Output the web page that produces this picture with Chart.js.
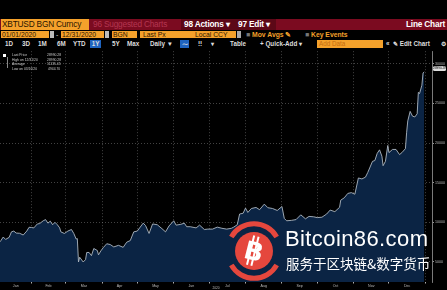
<!DOCTYPE html>
<html>
<head>
<meta charset="utf-8">
<script src="https://cdn.jsdelivr.net/npm/chart.js@4.4.0/dist/chart.umd.min.js"></script>
<style>
  body { margin: 0; background: #000; width: 447px; height: 290px; overflow: hidden; position: relative;
         font-family: "Liberation Sans", Arial, sans-serif; }
  .a { position: absolute; white-space: nowrap; }
  .org { background: #f4a12b; color: #2a1500; }
  #bar2 { position: absolute; left: 0; top: 19px; width: 447px; height: 11px; background: #7b0b20; }
  #bar2 .a { top: 0; height: 11px; line-height: 11px; font-size: 8.3px; letter-spacing: -0.2px; }
  #bar3 .a { top: 31px; height: 7px; line-height: 7px; font-size: 6.8px; }
  #bar4 .a { top: 40px; height: 8px; line-height: 8px; font-size: 6.3px; font-weight: bold; color: #ddd; }
  #legend .a { font-size: 3.4px; color: #ccc; line-height: 4px; }
  #wrap { position: absolute; left: 0; top: 48px; width: 447px; height: 242px; }
</style>
</head>
<body>
<div id="bar2">
  <div class="a org" style="left:1px;width:87px;padding-left:1px;">XBTUSD BGN Curncy</div>
  <div class="a" style="left:93px;color:#b43650;">96 Suggested Charts</div>
  <div class="a" style="left:181px;width:95px;background:#5c0817;"></div>
  <div class="a" style="left:184px;color:#fff;font-weight:bold;">98 Actions ▾</div>
  <div class="a" style="left:238px;color:#fff;font-weight:bold;">97 Edit ▾</div>
  <div class="a" style="right:2px;color:#fff;font-weight:bold;">Line Chart</div>
</div>
<div id="bar3">
  <div class="a org" style="left:1px;width:47px;padding-left:1px;">01/01/2020</div>
  <div class="a" style="left:50px;width:4px;background:#bbb;"></div>
  <div class="a" style="left:56px;color:#ddd;">-</div>
  <div class="a org" style="left:61px;width:42px;padding-left:1px;">12/31/2020</div>
  <div class="a" style="left:105px;width:4px;background:#bbb;"></div>
  <div class="a org" style="left:112px;width:24px;padding-left:1px;">BGN</div>
  <div class="a org" style="left:140px;width:51px;padding-left:3px;">Last Px</div>
  <div class="a org" style="left:194px;width:41px;padding-left:1px;">Local CCY</div>
  <div class="a" style="left:237px;width:4px;background:#aaa;"></div>
  <div class="a" style="left:246px;color:#f4a12b;font-weight:bold;"><span style="color:#777">■</span> Mov Avgs ✎</div>
  <div class="a" style="left:305px;color:#f4a12b;font-weight:bold;"><span style="color:#777">■</span> Key Events</div>
</div>
<div id="bar4">
  <div class="a" style="left:5px;">1D</div>
  <div class="a" style="left:22px;">3D</div>
  <div class="a" style="left:38px;">1M</div>
  <div class="a" style="left:57px;">6M</div>
  <div class="a" style="left:73px;">YTD</div>
  <div class="a" style="left:90px;width:11px;background:#1f64c0;text-align:center;">1Y</div>
  <div class="a" style="left:112px;">5Y</div>
  <div class="a" style="left:127px;">Max</div>
  <div class="a" style="left:150px;">Daily ▼</div>
  <div class="a" style="left:180px;width:9px;background:#1f64c0;text-align:center;">⁓</div>
  <div class="a" style="left:198px;">⁞⁞</div>
  <div class="a" style="left:211px;">▾</div>
  <div class="a" style="left:230px;">Table</div>
  <div class="a" style="left:260px;">+ Quick-Add ▾</div>
  <div class="a" style="left:317px;width:64px;background:#f4a12b;color:#c46d10;font-weight:normal;padding-left:2px;">Add Data</div>
  <div class="a" style="left:386px;">«</div>
  <div class="a" style="left:393px;">✎ Edit Chart</div>
  <div class="a" style="left:441px;">⚙</div>
</div>

<div id="wrap"><canvas id="btcChart"></canvas></div>

<div id="legend">
  <div class="a" style="left:3px;top:53.5px;width:3px;height:3px;background:#fff;"></div>
  <div class="a" style="left:7px;top:57px;width:0.5px;height:11px;background:#888;"></div>
  <div class="a" style="left:12px;top:53px;">Last Price</div>
  <div class="a" style="left:47px;top:53px;">28990.28</div>
  <div class="a" style="left:12px;top:57.5px;">High on 12/31/20</div>
  <div class="a" style="left:47px;top:57.5px;">28990.28</div>
  <div class="a" style="left:12px;top:62px;">Average</div>
  <div class="a" style="left:47px;top:62px;">11135.45</div>
  <div class="a" style="left:12px;top:66.5px;">Low on 03/16/20</div>
  <div class="a" style="left:48px;top:66.5px;">4944.70</div>
</div>
<div class="a" style="left:433px;top:65.5px;width:13px;height:5px;background:#ddd;border-radius:1.5px;font-size:3px;line-height:5px;color:#000;text-align:center;">28990.28</div>

<svg class="a" style="left:223px;top:220px;" width="62" height="62" viewBox="0 0 62 62">
  <path d="M 8.3 17 A 26 26 0 0 1 53.7 17" fill="none" stroke="#e5473d" stroke-width="5"/>
  <path d="M 8.3 45 A 26 26 0 0 0 53.7 45" fill="none" stroke="#e5473d" stroke-width="5"/>
  <circle cx="31" cy="31" r="19" fill="#e5473d"/>
  <g transform="rotate(14 31 31)" fill="#fff">
    <rect x="26.5" y="16" width="2" height="30"/>
    <rect x="31" y="16" width="2" height="30"/>
    <text x="31" y="40" text-anchor="middle" font-family="DejaVu Sans" font-weight="bold" font-size="25">B</text>
  </g>
</svg>
<div class="a" style="left:285px;top:228px;font-size:22px;line-height:22px;color:#fff;letter-spacing:0.4px;">Bitcoin86.com</div>
<div class="a" style="left:286px;top:256px;font-size:13.5px;line-height:14px;color:#fff;font-family:'Noto Sans CJK SC';">服务于区块链&amp;数字货币</div>

<script>
// day of year (Jan 1 = 0) and BGN close
const dayIndex = [0, 3, 5, 7, 9, 12, 14, 16, 18, 21, 24, 27, 29, 31, 33, 36, 38, 41, 43, 45, 47, 49, 51, 53, 55, 56, 59,
  62, 65, 67, 69, 70, 71, 72, 75, 77, 78, 80, 82, 84, 87, 88, 90, 92, 95, 98, 101, 105, 109, 112, 115, 118, 121,
  126, 128, 131, 134, 138, 142, 145, 148, 152, 154, 158, 161, 163, 166, 171, 174, 178, 181, 185, 189, 193, 197,
  201, 203, 206, 208, 211, 213, 215, 218, 222, 225, 229, 232, 236, 240, 244, 246, 248, 252, 256, 260, 264, 267,
  271, 274, 278, 282, 285, 289, 293, 294, 297, 300, 303, 306, 309, 312, 315, 317, 321, 323, 325, 327, 329, 330,
  332, 334, 335, 338, 341, 344, 346, 349, 350, 351, 353, 355, 357, 359, 360, 361, 363, 364, 365];
const closePrice = [7200, 7350, 7700, 8150, 7850, 8100, 8800, 8900, 8650, 8620, 8400, 8900, 9380, 9350, 9300, 9800,
  9850, 10200, 10350, 9900, 10150, 9700, 10000, 9700, 9300, 8800, 8600, 8900, 9100, 8600, 7900, 7950, 5000, 5600,
  5000, 5300, 6200, 6200, 5800, 6700, 6450, 5900, 6400, 6800, 7300, 7200, 6900, 7100, 6850, 7500, 7700, 8800, 8900,
  9900, 9600, 8600, 9800, 9700, 9200, 8800, 9550, 10200, 9650, 9750, 9900, 9450, 9450, 9300, 9650, 9100, 9150,
  9150, 9400, 9250, 9150, 9250, 9400, 9700, 11050, 11150, 11800, 11250, 11750, 11880, 11600, 12300, 11850, 11750,
  11500, 12000, 10500, 10200, 10250, 10350, 10950, 10450, 10750, 10700, 10600, 10650, 11050, 11550, 11350, 11900,
  12800, 13100, 13650, 13750, 13550, 15600, 15480, 15700, 16300, 17700, 17800, 18700, 19150, 18350, 17150, 17700,
  19700, 18800, 19200, 19200, 18550, 18800, 19300, 21300, 22800, 24000, 23400, 23300, 23700, 26400, 26250, 27300,
  28850, 28990];
const monthNames = ["Jan", "Feb", "Mar", "Apr", "May", "Jun", "Jul", "Aug", "Sep", "Oct", "Nov", "Dec"];
const monthStarts = [0, 31, 60, 91, 121, 152, 182, 213, 244, 274, 305, 335, 366];
const priceTicks = [5000, 10000, 15000, 20000, 25000, 30000];

const xMin = 4.25, xMax = 371.6;
const gridColor = "rgba(140,140,140,0.6)";

// month boundaries carry the grid, mid-month ticks carry the names
const labelAt = {};
monthNames.forEach((m, i) => {
  const from = Math.max(monthStarts[i], xMin);
  labelAt[((from + monthStarts[i + 1]) / 2).toFixed(2)] = m;
});
const boundaryTicks = monthStarts.filter((d) => d > xMin);
const labelTicks = Object.keys(labelAt).map(Number);
const isBoundary = (v) => boundaryTicks.includes(v);

const ctx = document.getElementById("btcChart").getContext("2d");
new Chart(ctx, {
  type: "line",
  data: {
    datasets: [
      {
        label: "XBTUSD",
        data: dayIndex.map((d, i) => ({ x: d, y: closePrice[i] })),
        borderColor: "#aeb8c2",
        borderWidth: 0.9,
        backgroundColor: "#0b2444",
        fill: "start",
        pointRadius: 0,
        tension: 0,
      },
    ],
  },
  options: {
    responsive: true,
    maintainAspectRatio: false,
    animation: false,
    layout: { padding: 0 },
    plugins: { legend: { display: false }, tooltip: { enabled: false } },
    scales: {
      x: {
        type: "linear",
        min: xMin,
        max: xMax,
        z: 1,
        afterBuildTicks: (scale) => {
          scale.ticks = boundaryTicks.concat(labelTicks).sort((a, b) => a - b).map((v) => ({ value: v }));
        },
        afterFit: (scale) => { scale.height = 8; },
        grid: {
          color: (c) => (c.tick && isBoundary(c.tick.value) ? gridColor : "transparent"),
          tickColor: (c) => (c.tick && isBoundary(c.tick.value) ? "#ddd" : "transparent"),
          tickLength: 1.5,
          lineWidth: 0.8,
        },
        border: { display: false, dash: [1, 2] },
        ticks: {
          autoSkip: false,
          maxRotation: 0,
          padding: 0,
          color: "#bbb",
          font: { size: 3.6, family: "Liberation Sans" },
          callback: (v) => labelAt[Number(v).toFixed(2)] || "",
        },
        title: { display: true, text: "2020", color: "#bbb", font: { size: 3.2 }, padding: { top: 0, bottom: 0 } },
      },
      y: {
        position: "right",
        min: 2475,
        max: 31600,
        z: 1,
        afterBuildTicks: (scale) => {
          scale.ticks = priceTicks.map((v) => ({ value: v }));
        },
        afterFit: (scale) => { scale.width = 15; },
        grid: { color: gridColor, tickColor: "#bbb", tickLength: 2, lineWidth: 0.8 },
        border: { display: true, color: "#999", width: 0.8, dash: [1, 2] },
        ticks: {
          padding: 1,
          color: "#bbb",
          font: { size: 3.6, family: "Liberation Sans" },
          callback: (v) => String(v),
        },
      },
    },
  },
});
</script>
</body>
</html>
